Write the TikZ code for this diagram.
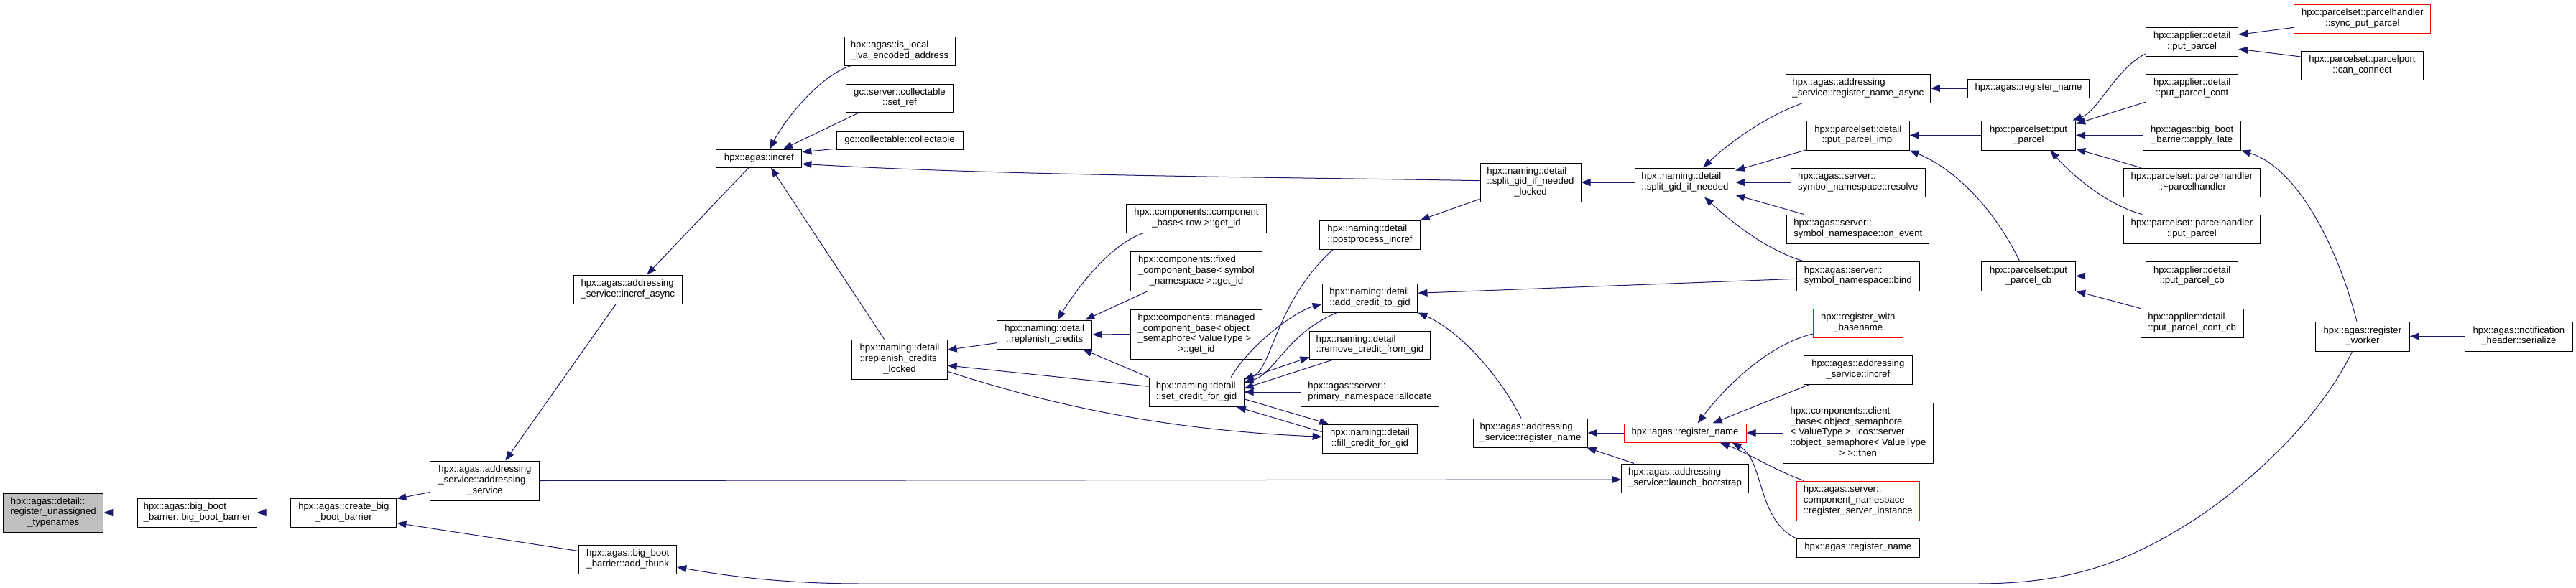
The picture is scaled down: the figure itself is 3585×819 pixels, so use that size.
\documentclass[tikz,border=0pt]{standalone}
\usepackage{fontspec}
\setmainfont{Liberation Sans}
\usetikzlibrary{arrows.meta}
\definecolor{edgec}{HTML}{191970}
\definecolor{rootgray}{HTML}{BFBFBF}
\definecolor{redb}{HTML}{FF0000}
\newcommand{\nodefont}{\fontsize{13.2}{14.75}\selectfont}
\newcommand{\lbl}[1]{\begin{tabular}{@{}c@{}}#1\end{tabular}}
\newcommand{\lbla}[2]{\begin{tabular}{@{}l@{}}#1\\\multicolumn{1}{@{}c@{}}{#2}\end{tabular}}
\begin{document}
\begin{tikzpicture}[x=1pt,y=-1pt,
  box/.style={draw=black, line width=1pt, fill=white, inner sep=0pt, font=\nodefont, anchor=center},
  redbox/.style={box, draw=redb},
  arr/.style={draw=edgec, line width=1pt, {Triangle[length=13pt,width=10pt]}-}]
\useasboundingbox (0,0) rectangle (3585,819);
% column 1-6
\node[box, fill=rootgray, minimum width=139.3pt, minimum height=54pt] (root) at (74.3,714) {\lbla{hpx::agas::detail::\\register\_unassigned}{\_typenames}};
\node[box, minimum width=165.7pt, minimum height=40pt] (bbb) at (274.3,714) {\lbla{hpx::agas::big\_boot}{\_barrier::big\_boot\_barrier}};
\node[box, minimum width=147pt, minimum height=40pt] (cbb) at (478.4,714) {\lbla{hpx::agas::create\_big}{\_boot\_barrier}};
\node[box, minimum width=152pt, minimum height=55pt] (asctor) at (674.9,669.5) {\lbla{hpx::agas::addressing\\\_service::addressing}{\_service}};
\node[box, minimum width=136.3pt, minimum height=40pt] (addthunk) at (873.7,779) {\lbla{hpx::agas::big\_boot}{\_barrier::add\_thunk}};
\node[box, minimum width=151.2pt, minimum height=40pt] (incasync) at (873.8,403) {\lbla{hpx::agas::addressing}{\_service::incref\_async}};
\node[box, minimum width=119pt, minimum height=25pt] (incref) at (1056.4,220.5) {\lbl{hpx::agas::incref}};
% column 7
\node[box, minimum width=154pt, minimum height=40pt] (islocal) at (1252,71) {\lbla{hpx::agas::is\_local}{\_lva\_encoded\_address}};
\node[box, minimum width=148.4pt, minimum height=39pt] (setref) at (1252,136.5) {\lbla{gc::server::collectable}{::set\_ref}};
\node[box, minimum width=176pt, minimum height=25pt] (collect) at (1252,195.5) {\lbl{gc::collectable::collectable}};
\node[box, minimum width=132.4pt, minimum height=55pt] (rcl) at (1252,500.5) {\lbla{hpx::naming::detail\\::replenish\_credits}{\_locked}};
% column 8-9
\node[box, minimum width=132.4pt, minimum height=40pt] (rc) at (1453.7,466) {\lbla{hpx::naming::detail}{::replenish\_credits}};
\node[box, minimum width=195.2pt, minimum height=40pt] (cbget) at (1665,304) {\lbla{hpx::components::component}{\_base< row >::get\_id}};
\node[box, minimum width=183.3pt, minimum height=55pt] (fixed) at (1665,377.5) {\lbla{hpx::components::fixed\\\_component\_base< symbol}{\_namespace >::get\_id}};
\node[box, minimum width=183.3pt, minimum height=69pt] (managed) at (1665,465.5) {\lbla{hpx::components::managed\\\_component\_base< object\\\_semaphore< ValueType >}{>::get\_id}};
\node[box, minimum width=132pt, minimum height=40pt] (scfg) at (1665,546) {\lbla{hpx::naming::detail}{::set\_credit\_for\_gid}};
% column 10
\node[box, minimum width=139.3pt, minimum height=40pt] (postprocess) at (1906.5,327) {\lbla{hpx::naming::detail}{::postprocess\_incref}};
\node[box, minimum width=132.8pt, minimum height=40pt] (addcredit) at (1906.5,415) {\lbla{hpx::naming::detail}{::add\_credit\_to\_gid}};
\node[box, minimum width=167.2pt, minimum height=39pt] (remove) at (1906.5,480.5) {\lbla{hpx::naming::detail}{::remove\_credit\_from\_gid}};
\node[box, minimum width=192.5pt, minimum height=40pt] (allocate) at (1906.5,546) {\lbla{hpx::agas::server::}{primary\_namespace::allocate}};
\node[box, minimum width=132.8pt, minimum height=40pt] (fill) at (1906.5,611) {\lbla{hpx::naming::detail}{::fill\_credit\_for\_gid}};
% column 11-12
\node[box, minimum width=140pt, minimum height=54pt] (splitl) at (2130,254) {\lbla{hpx::naming::detail\\::split\_gid\_if\_needed}{\_locked}};
\node[box, minimum width=158.8pt, minimum height=40pt] (asrn) at (2130,603) {\lbla{hpx::agas::addressing}{\_service::register\_name}};
\node[box, minimum width=139.6pt, minimum height=40pt] (split) at (2345,254) {\lbla{hpx::naming::detail}{::split\_gid\_if\_needed}};
\node[redbox, minimum width=170pt, minimum height=26pt] (rnred) at (2345,603) {\lbl{hpx::agas::register\_name}};
\node[box, minimum width=176.3pt, minimum height=40pt] (launch) at (2345,666) {\lbla{hpx::agas::addressing}{\_service::launch\_bootstrap}};
% column 13
\node[box, minimum width=201.3pt, minimum height=40pt] (rna) at (2585.8,123) {\lbla{hpx::agas::addressing}{\_service::register\_name\_async}};
\node[box, minimum width=142.8pt, minimum height=41pt] (ppi) at (2585.8,188.5) {\lbla{hpx::parcelset::detail}{::put\_parcel\_impl}};
\node[box, minimum width=187.2pt, minimum height=40pt] (resolve) at (2585.8,254) {\lbla{hpx::agas::server::}{symbol\_namespace::resolve}};
\node[box, minimum width=197.8pt, minimum height=40pt] (onevent) at (2585.8,319) {\lbla{hpx::agas::server::}{symbol\_namespace::on\_event}};
\node[box, minimum width=171pt, minimum height=41pt] (bind) at (2585.8,384.5) {\lbla{hpx::agas::server::}{symbol\_namespace::bind}};
\node[redbox, minimum width=124.4pt, minimum height=40pt] (rwb) at (2585.8,450) {\lbla{hpx::register\_with}{\_basename}};
\node[box, minimum width=151.2pt, minimum height=40pt] (asi) at (2585.8,515) {\lbla{hpx::agas::addressing}{\_service::incref}};
\node[box, minimum width=209.8pt, minimum height=84pt] (clientb) at (2586,603) {\lbla{hpx::components::client\\\_base< object\_semaphore\\< ValueType >, lcos::server\\::object\_semaphore< ValueType}{> >::then}};
\node[redbox, minimum width=171pt, minimum height=55pt] (rsi) at (2585.8,697.5) {\lbla{hpx::agas::server::\\component\_namespace}{::register\_server\_instance}};
\node[box, minimum width=170.4pt, minimum height=26pt] (rnbot) at (2585.8,763) {\lbl{hpx::agas::register\_name}};
% column 14
\node[box, minimum width=169.5pt, minimum height=26pt] (rntop) at (2823,123) {\lbl{hpx::agas::register\_name}};
\node[box, minimum width=131.3pt, minimum height=41pt] (pp) at (2823,188.5) {\lbla{hpx::parcelset::put}{\_parcel}};
\node[box, minimum width=131.3pt, minimum height=41pt] (ppcb) at (2823,384.5) {\lbla{hpx::parcelset::put}{\_parcel\_cb}};
% column 15
\node[box, minimum width=128.6pt, minimum height=40pt] (aput) at (3050.6,58) {\lbla{hpx::applier::detail}{::put\_parcel}};
\node[box, minimum width=128.6pt, minimum height=40pt] (apcont) at (3050.6,123) {\lbla{hpx::applier::detail}{::put\_parcel\_cont}};
\node[box, minimum width=136.2pt, minimum height=41pt] (applylate) at (3050.6,188.5) {\lbla{hpx::agas::big\_boot}{\_barrier::apply\_late}};
\node[box, minimum width=189.4pt, minimum height=40pt] (phdtor) at (3050.4,254) {\lbla{hpx::parcelset::parcelhandler}{::\textasciitilde parcelhandler}};
\node[box, minimum width=189.4pt, minimum height=40pt] (phput) at (3050.4,319) {\lbla{hpx::parcelset::parcelhandler}{::put\_parcel}};
\node[box, minimum width=128.6pt, minimum height=41pt] (apcb) at (3050.6,384.5) {\lbla{hpx::applier::detail}{::put\_parcel\_cb}};
\node[box, minimum width=142.6pt, minimum height=40pt] (apcontcb) at (3050.7,450) {\lbla{hpx::applier::detail}{::put\_parcel\_cont\_cb}};
% column 16-17
\node[redbox, minimum width=189.9pt, minimum height=40pt] (sync) at (3287.8,26) {\lbla{hpx::parcelset::parcelhandler}{::sync\_put\_parcel}};
\node[box, minimum width=169.8pt, minimum height=40pt] (canconn) at (3287.5,91) {\lbla{hpx::parcelset::parcelport}{::can\_connect}};
\node[box, minimum width=131pt, minimum height=41pt] (regworker) at (3287.9,468.5) {\lbla{hpx::agas::register}{\_worker}};
\node[box, minimum width=149.6pt, minimum height=41pt] (serialize) at (3505.4,468.5) {\lbla{hpx::agas::notification}{\_header::serialize}};
% edges (arrow tip at the first point)
\draw[arr] (root.east) -- (bbb.west);
\draw[arr] (bbb.east) -- (cbb.west);
\draw[arr] ([yshift=-1pt]cbb.north east) -- ([yshift=-44pt]asctor.north west);
\draw[arr] ([yshift=6pt]cbb.south east) -- ([yshift=-9pt]addthunk.north west);
\draw[arr] ([xshift=28.4pt]asctor.north) -- ([xshift=-16.6pt]incasync.south);
\draw[arr] ([xshift=26.6pt]incasync.north) -- ([xshift=-14.4pt]incref.south);
\draw[arr] ([xshift=15pt]incref.north) .. controls (1090,170) and (1140,105) .. ([xshift=10pt]islocal.south west);
\draw[arr] ([xshift=33.6pt]incref.north) -- ([xshift=19pt]setref.south west);
\draw[arr] ([yshift=8.8pt]incref.east) -- ([yshift=1.3pt]collect.south west);
\draw[arr] ([yshift=-7.8pt]incref.east) .. controls (1400,245) and (1800,247) .. ([yshift=2.3pt]splitl.west);
\draw[arr] ([xshift=16.6pt]incref.south) -- ([xshift=-21.4pt]rcl.north);
\draw[arr] ([yshift=-2pt]launch.west) -- (asctor.east);
\draw[arr] ([yshift=-11pt]addthunk.east) .. controls (1000,800) and (1080,813) .. (1200,813) -- (2750,813) .. controls (2880,813) and (2960,785) .. (3060,720) .. controls (3140,665) and (3230,580) .. ([xshift=-14.4pt]regworker.south);
\draw[arr] (applylate.south east) .. controls (3200,235) and (3255,350) .. ([xshift=-8pt]regworker.north);
\draw[arr] (regworker.east) -- (serialize.west);
\draw[arr] ([yshift=13.2pt]rcl.east) -- ([yshift=-11.7pt]rc.west);
\draw[arr] ([yshift=-8.5pt]rcl.east) -- ([yshift=7.7pt]scfg.west);
\draw[arr] ([yshift=2.7pt]fill.west) .. controls (1640,600) and (1480,570) .. ([yshift=-16.8pt]rcl.east);
\draw[arr] ([xshift=18pt]rc.north) .. controls (1500,400) and (1545,340) .. ([xshift=25pt]cbget.south west);
\draw[arr] ([xshift=-10pt]rc.north east) -- ([xshift=24.5pt]fixed.south west);
\draw[arr] (rc.east) -- (managed.west);
\draw[arr] ([xshift=-13.7pt]rc.south east) -- (scfg.north west);
\draw[arr] ([yshift=18pt]scfg.east) .. controls (1770,515) and (1775,420) .. ([xshift=18.8pt]postprocess.south west);
\draw[arr] ([yshift=13pt]scfg.east) .. controls (1775,520) and (1790,465) .. ([xshift=21pt]addcredit.south west);
\draw[arr] ([yshift=-8.3pt]addcredit.west) .. controls (1800,435) and (1740,480) .. ([xshift=-18.4pt]scfg.north east);
\draw[arr] ([yshift=3.3pt]remove.south west) -- ([yshift=-3pt]scfg.north east);
\draw[arr] ([yshift=5pt]scfg.east) -- ([xshift=34.4pt]remove.south west);
\draw[arr] (scfg.east) -- (allocate.west);
\draw[arr] ([xshift=9.6pt]fill.north west) -- ([yshift=-9.7pt]scfg.east);
\draw[arr] ([xshift=-10.7pt]scfg.south east) -- ([yshift=9.3pt]fill.west);
\draw[arr] (postprocess.north east) -- ([yshift=4.3pt]splitl.south west);
\draw[arr] ([yshift=6.7pt]addcredit.east) -- ([yshift=-3.8pt]bind.west);
\draw[arr] (addcredit.south east) .. controls (2030,460) and (2085,520) .. ([xshift=-13pt]asrn.north);
\draw[arr] (splitl.east) -- (split.west);
\draw[arr] (asrn.east) -- (rnred.west);
\draw[arr] ([xshift=-1.5pt]asrn.south east) -- ([xshift=17.6pt]launch.north west);
\draw[arr] ([xshift=25pt]split.north) .. controls (2400,205) and (2450,165) .. ([xshift=24pt]rna.south west);
\draw[arr] ([yshift=-4pt]split.north east) -- ([yshift=0.7pt]ppi.south west);
\draw[arr] (split.east) -- (resolve.west);
\draw[arr] ([yshift=3pt]split.south east) -- ([xshift=24pt]onevent.north west);
\draw[arr] ([xshift=27pt]split.south) .. controls (2400,300) and (2450,345) .. ([xshift=9pt]bind.north west);
\draw[arr] ([xshift=17.6pt]rnred.north) .. controls (2400,540) and (2460,480) .. ([yshift=-15pt]rwb.west);
\draw[arr] ([xshift=38.6pt]rnred.north) -- ([xshift=8.4pt]asi.south west);
\draw[arr] (rnred.east) -- (clientb.west);
\draw[arr] ([xshift=-36.7pt]rnred.south east) .. controls (2430,630) and (2470,655) .. ([xshift=10.7pt]rsi.north west);
\draw[arr] ([xshift=-20pt]rnred.south east) .. controls (2455,640) and (2445,725) .. ([yshift=13pt]rnbot.west);
\draw[arr] (rna.east) -- (rntop.west);
\draw[arr] (ppi.east) -- (pp.west);
\draw[arr] (ppi.south east) .. controls (2720,235) and (2775,290) .. ([xshift=-12.4pt]ppcb.north);
\draw[arr] ([xshift=-4.6pt]pp.north east) .. controls (2920,155) and (2945,95) .. ([yshift=-17pt]aput.west);
\draw[arr] ([yshift=-5pt]pp.north east) -- ([yshift=1.3pt]apcont.south west);
\draw[arr] (pp.east) -- (applylate.west);
\draw[arr] ([yshift=2pt]pp.south east) -- ([xshift=24pt]phdtor.north west);
\draw[arr] ([xshift=30.5pt]pp.south) .. controls (2880,240) and (2930,285) .. ([xshift=26pt]phput.north west);
\draw[arr] (ppcb.east) -- (apcb.west);
\draw[arr] (ppcb.south east) -- (apcontcb.north west);
\draw[arr] ([yshift=9.7pt]aput.east) -- ([yshift=-12.3pt]sync.west);
\draw[arr] ([yshift=-10.3pt]aput.east) -- ([yshift=12pt]canconn.west);
\end{tikzpicture}
\end{document}
